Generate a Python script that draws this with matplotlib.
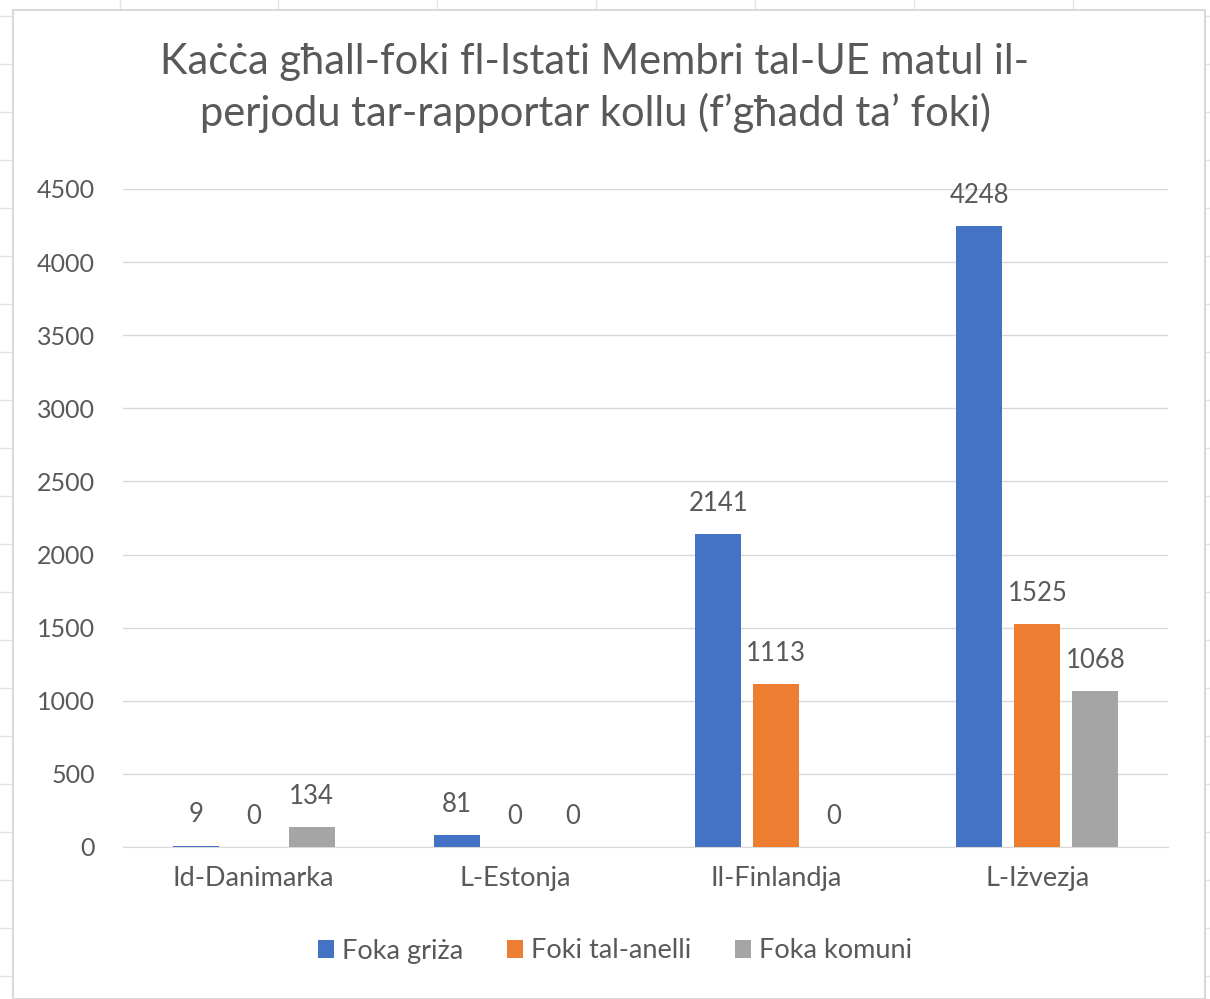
import numpy as np
import matplotlib.pyplot as plt
from matplotlib.patches import Rectangle
from matplotlib.lines import Line2D

plt.rcParams['font.family'] = ['Lato', 'DejaVu Sans']

TITLE = "Kaċċa għall-foki fl-Istati Membri tal-UE matul il-\nperjodu tar-rapportar kollu (f’għadd ta’ foki)"
countries = ['Id-Danimarka', 'L-Estonja', 'Il-Finlandja', 'L-Iżvezja']
series_names = ['Foka griża', 'Foki tal-anelli', 'Foka komuni']
foka_griza = [9, 81, 2141, 4248]
foki_tal_anelli = [0, 0, 1113, 1525]
foka_komuni = [134, 0, 0, 1068]
COLORS = ['#4472C4', '#ED7D31', '#A5A5A5']
TEXT = '#595959'
W, H = 1210, 999

fig = plt.figure(figsize=(12.1, 9.99), dpi=100)
fig.patch.set_facecolor('white')

# spreadsheet cells peeking out behind the chart
for yy in range(16, H, 48):
    fig.lines.append(Line2D([0, 13/W], [1 - yy/H, 1 - yy/H], transform=fig.transFigure,
                            color='#E3E3E3', lw=1, zorder=-3))
    fig.lines.append(Line2D([1205/W, 1], [1 - yy/H, 1 - yy/H], transform=fig.transFigure,
                            color='#E3E3E3', lw=1, zorder=-3))
for xx in [120, 278, 437, 596, 755, 914, 1073]:
    fig.lines.append(Line2D([xx/W, xx/W], [1 - 10/H, 1], transform=fig.transFigure,
                            color='#E3E3E3', lw=1, zorder=-3))

# chart frame like the excel chart area
fig.patches.append(Rectangle((13/W, 0), (1205-13)/W, 1 - 10/H, transform=fig.transFigure,
                             facecolor='white', edgecolor='#D9D9D9', linewidth=1.5, zorder=-2))

ax = fig.add_axes([123/W, 1 - 847/H, (1168-123)/W, (847-189)/H])
ax.patch.set_alpha(0)
x = np.arange(len(countries))
width = 0.176
step = 0.222
data = [foka_griza, foki_tal_anelli, foka_komuni]
for i, vals in enumerate(data):
    pos = x + (i - 1) * step
    ax.bar(pos, vals, width, color=COLORS[i], label=series_names[i], zorder=3)
    for p, v in zip(pos, vals):
        ax.text(p, v + 125, str(v), ha='center', va='bottom', fontsize=18.5, color=TEXT)

ax.set_xlim(-0.5, 3.5)
ax.set_ylim(0, 4500)
ax.set_yticks(np.arange(0, 4501, 500))
ax.set_xticks(x)
ax.set_xticklabels(countries)
ax.tick_params(axis='y', length=0, labelsize=18, colors=TEXT, pad=20)
ax.tick_params(axis='x', length=0, labelsize=19.5, colors=TEXT, pad=14)
ax.grid(axis='y', color='#D9D9D9', linewidth=1, zorder=0)
for s in ['top', 'right', 'left']:
    ax.spines[s].set_visible(False)
ax.spines['bottom'].set_color('#D9D9D9')

fig.text(595/W, 1 - 88/H, TITLE, ha='center', va='center', fontsize=30, color=TEXT, linespacing=1.35)

fig.legend(loc='center', bbox_to_anchor=(615/W, 1 - 951/H), ncol=3, frameon=False,
           fontsize=19.5, handlelength=0.6, handleheight=0.6, handletextpad=0.3, columnspacing=1.6,
           labelcolor=TEXT)

fig.savefig('out.png', dpi=100)
